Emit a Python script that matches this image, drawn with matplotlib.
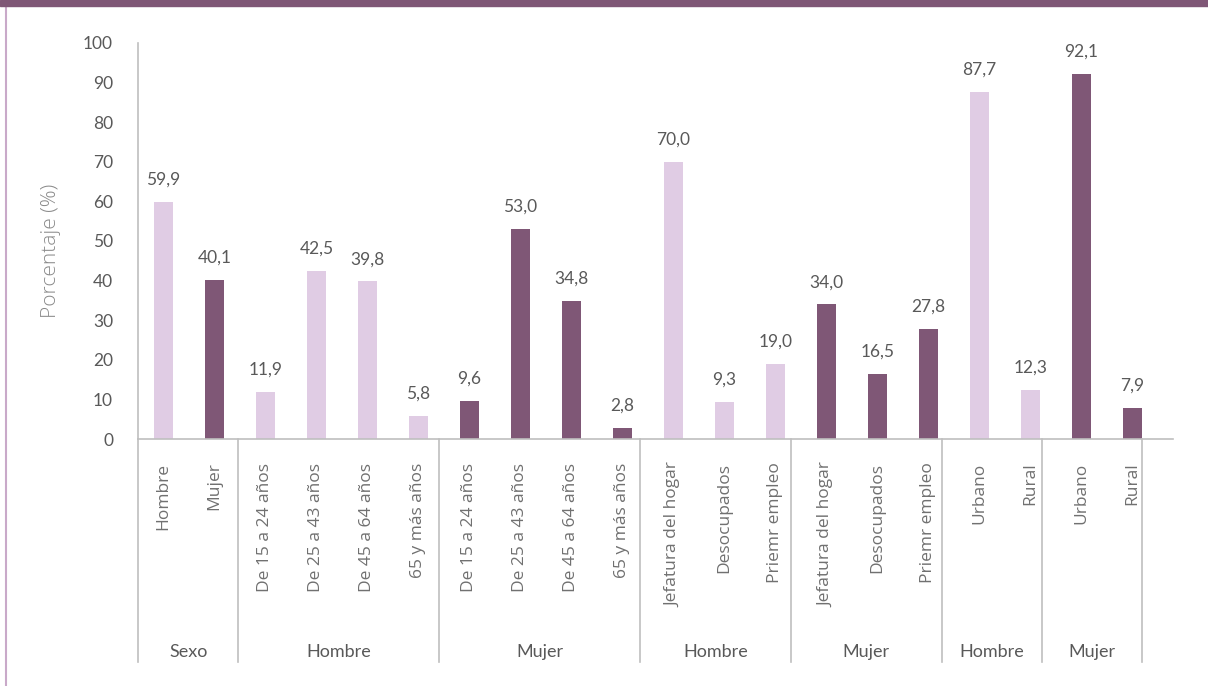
import matplotlib.pyplot as plt
from matplotlib.lines import Line2D
from matplotlib.patches import Rectangle
import matplotlib.transforms as mtransforms

categorias = ['Hombre', 'Mujer',
              'De 15 a 24 años', 'De 25 a 43 años', 'De 45 a 64 años', '65 y más años',
              'De 15 a 24 años', 'De 25 a 43 años', 'De 45 a 64 años', '65 y más años',
              'Jefatura del hogar', 'Desocupados', 'Priemr empleo',
              'Jefatura del hogar', 'Desocupados', 'Priemr empleo',
              'Urbano', 'Rural',
              'Urbano', 'Rural']
valores = [59.9, 40.1,
           11.9, 42.5, 39.8, 5.8,
           9.6, 53.0, 34.8, 2.8,
           70.0, 9.3, 19.0,
           34.0, 16.5, 27.8,
           87.7, 12.3,
           92.1, 7.9]
sexo_barra = ['H', 'M',
              'H', 'H', 'H', 'H',
              'M', 'M', 'M', 'M',
              'H', 'H', 'H',
              'M', 'M', 'M',
              'H', 'H',
              'M', 'M']
grupos = ['Sexo', 'Hombre', 'Mujer', 'Hombre', 'Mujer', 'Hombre', 'Mujer']
tam_grupos = [2, 4, 4, 3, 3, 2, 2]

claro = '#E0CCE4'
oscuro = '#7F5776'
gris_txt = '#595959'
gris_eje = '#BFBFBF'
num_font = 'Lato'
cat_font = 'Open Sans'

W, H = 1208, 686
fig = plt.figure(figsize=(W / 100, H / 100), dpi=100)
ax = fig.add_axes([138 / W, 1 - 439 / H, 1035 / W, 396 / H])

x = list(range(len(valores)))
colores = [claro if s == 'H' else oscuro for s in sexo_barra]
ax.bar(x, valores, width=0.37, color=colores, zorder=2)

for xi, v in zip(x, valores):
    ax.annotate(f'{v:.1f}'.replace('.', ','), (xi, v), xytext=(0, 16),
                textcoords='offset points', ha='center', va='center',
                fontsize=12.5, color=gris_txt, family=num_font)

ax.set_xlim(-0.5, 19.8)
ax.set_ylim(0, 100)
ax.set_yticks(range(0, 101, 10))
ax.tick_params(axis='y', length=0, pad=18, labelsize=12.5, labelcolor=gris_txt)
for t in ax.get_yticklabels():
    t.set_family(num_font)
ax.set_xticks(x)
ax.set_xticklabels(categorias, rotation=90, fontsize=12.5, color='#707070', family=cat_font)
ax.tick_params(axis='x', length=0, pad=17)

for side in ['top', 'right']:
    ax.spines[side].set_visible(False)
for side in ['left', 'bottom']:
    ax.spines[side].set_color(gris_eje)
    ax.spines[side].set_linewidth(1.2)

# los separadores del eje de categorias en Excel van algo mas juntos que las barras
paso_sep = 0.985
trans = mtransforms.blended_transform_factory(ax.transData, ax.transAxes)
y_fondo = (439 - 662) / 396
ax.plot([-0.5, -0.5], [0, y_fondo], transform=trans, color=gris_eje, lw=1.2, clip_on=False)
acum = 0
for g, n in zip(grupos, tam_grupos):
    inicio = -0.5 + acum * paso_sep
    acum += n
    fin = -0.5 + acum * paso_sep
    ax.plot([fin, fin], [0, y_fondo], transform=trans, color=gris_eje, lw=1.2, clip_on=False)
    ax.text((inicio + fin) / 2, (439 - 652) / 396, g, transform=trans, ha='center', va='center',
            fontsize=13, color=gris_txt, family=num_font)

fig.text(51 / W, 1 - 251 / H, 'Porcentaje (%)', rotation=90, ha='center', va='center',
         fontsize=15, color='#8A8A8A', family=cat_font, fontweight='light')

fig.patches.append(Rectangle((0, 1 - 6 / H), 1, 6 / H, transform=fig.transFigure,
                             color=oscuro, zorder=5))
fig.lines.append(Line2D([6 / W, 6 / W], [0, 1 - 6 / H], transform=fig.transFigure,
                        color='#C9A9C9', lw=1.5))

fig.savefig('out.png', dpi=100)
